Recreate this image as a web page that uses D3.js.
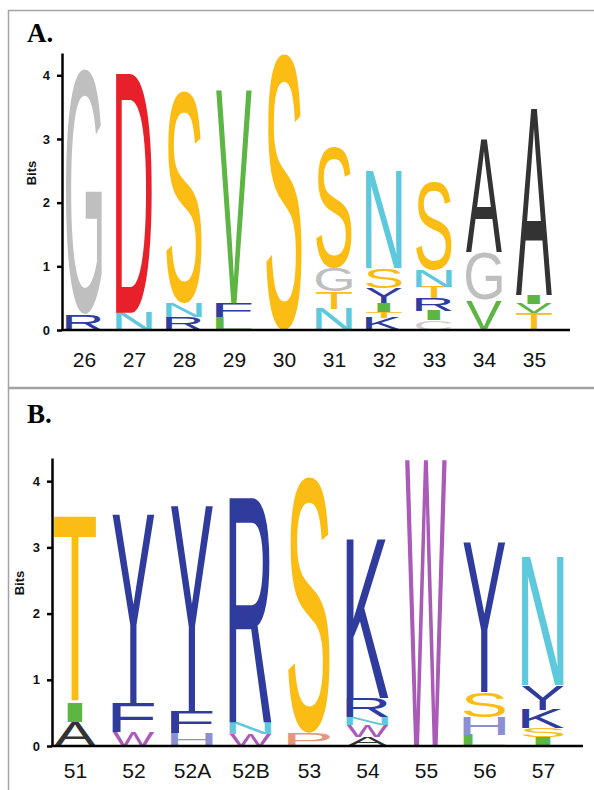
<!DOCTYPE html>
<html lang="en">
<head>
    <meta charset="UTF-8">
    <title>Sequence logo</title>
    <script src="https://cdnjs.cloudflare.com/ajax/libs/d3/7.8.5/d3.min.js"></script>
    <style type="text/css">
        body {
            margin: 0;
            background: #fff;
        }
    </style>
</head>
<body>
<div class="container"></div>
<script>
    // positions (column labels) and letter stacks, bottom to top: [letter, bits]
    const colsA = ['26', '27', '28', '29', '30', '31', '32', '33', '34', '35'];
    const stacksA = [
        [['R', 0.25], ['G', 3.85]],
        [['N', 0.27], ['D', 3.76]],
        [['R', 0.2], ['N', 0.22], ['S', 3.38]],
        [['L', 0.2], ['F', 0.22], ['V', 3.35]],
        [['S', 4.4]],
        [['N', 0.33], ['T', 0.27], ['G', 0.38], ['S', 1.92]],
        [['K', 0.19], ['T', 0.1], ['I', 0.13], ['Y', 0.24], ['S', 0.31], ['N', 1.53]],
        [['C', 0.15], ['I', 0.15], ['R', 0.2], ['T', 0.18], ['N', 0.26], ['S', 1.41]],
        [['V', 0.47], ['G', 0.75], ['A', 1.78]],
        [['T', 0.26], ['V', 0.15], ['I', 0.14], ['A', 2.93]]
    ];

    const colsB = ['51', '52', '52A', '52B', '53', '54', '55', '56', '57'];
    const stacksB = [
        [['A', 0.36], ['I', 0.29], ['T', 2.82]],
        [['W', 0.21], ['F', 0.44], ['Y', 2.85]],
        [['H', 0.2], ['F', 0.32], ['Y', 3.11]],
        [['W', 0.18], ['N', 0.18], ['R', 3.44]],
        [['P', 0.2], ['S', 3.92]],
        [['A', 0.14], ['W', 0.18], ['N', 0.12], ['R', 0.29], ['K', 2.39]],
        [['W', 4.33]],
        [['L', 0.17], ['H', 0.27], ['S', 0.38], ['Y', 2.27]],
        [['I', 0.14], ['S', 0.13], ['K', 0.28], ['Y', 0.37], ['N', 1.93]]
    ];

    const bitTicks = [0, 1, 2, 3, 4];
    const bitMax = 4.35;

    const letterColor = {
        G: '#bfbfbf', D: '#e8202a', S: '#fbbc14', T: '#fbbc14',
        V: '#5db544', L: '#5db544', I: '#5db544',
        N: '#5ec8dc', R: '#2f3c9e', K: '#2f3c9e', Y: '#2f3c9e', F: '#2f3c9e',
        W: '#a95bb7', A: '#333333', H: '#8c8fd4', P: '#e6957f', C: '#d4cccc'
    };

    const FONT = '"Liberation Sans", Arial, sans-serif';

    // tight glyph bounds at 100px, used to stretch each letter into its box
    const ctx = document.createElement('canvas').getContext('2d');
    ctx.font = '100px ' + FONT;
    const glyphCache = {};
    function glyph(ch) {
        if (!glyphCache[ch]) {
            const m = ctx.measureText(ch);
            glyphCache[ch] = {
                l: -m.actualBoundingBoxLeft,
                r: m.actualBoundingBoxRight,
                t: -m.actualBoundingBoxAscent,
                b: m.actualBoundingBoxDescent
            };
        }
        return glyphCache[ch];
    }

    const svg = d3.select('.container')
        .append('svg')
        .attr('width', 594)
        .attr('height', 790);

    // frames
    svg.append('rect')
        .attr('x', 8.5).attr('y', 10.5)
        .attr('width', 600).attr('height', 377)
        .attr('fill', 'none')
        .attr('stroke', '#a3a3a3')
        .attr('stroke-width', 1.5);

    svg.append('rect')
        .attr('x', 8.5).attr('y', 388.5)
        .attr('width', 600).attr('height', 420)
        .attr('fill', 'none')
        .attr('stroke', '#a3a3a3')
        .attr('stroke-width', 1.5);

    function drawPanel(p) {
        const g = svg.append('g');

        g.append('text')
            .text(p.title)
            .attr('x', 27)
            .attr('y', p.titleY)
            .attr('font-family', '"Liberation Serif", "Times New Roman", serif')
            .attr('font-weight', 'bold')
            .attr('font-size', 27);

        const xScale = d3.scalePoint()
            .domain(p.cols)
            .range(p.xRange);

        const yScale = d3.scaleLinear()
            .domain([0, bitMax])
            .range([p.y0, p.yTop]);

        const step = xScale.step();
        const letterW = step * 0.72;

        // letters
        p.stacks.forEach((stack, i) => {
            const cx = xScale(p.cols[i]);
            let base = 0;
            stack.forEach(([ch, bits]) => {
                const yb = yScale(base);
                const yt = yScale(base + bits);
                base += bits;
                const w = ch === 'I' ? letterW * 0.37 : letterW;
                const h = yb - yt;
                const gb = glyph(ch);
                const sx = w / (gb.r - gb.l);
                const sy = h / (gb.b - gb.t);
                g.append('text')
                    .text(ch)
                    .attr('font-family', FONT)
                    .attr('font-size', 100)
                    .attr('fill', letterColor[ch])
                    .attr('transform', 'translate(' + (cx - w / 2) + ',' + yb + ') scale(' + sx + ',' + sy + ') translate(' + (-gb.l) + ',' + (-gb.b) + ')');
            });
        });

        // y axis
        const yAxis = d3.axisLeft(yScale)
            .tickValues(bitTicks)
            .tickFormat(d3.format('d'))
            .tickSize(5)
            .tickSizeOuter(0)
            .tickPadding(7);

        const ya = g.append('g')
            .attr('transform', 'translate(' + p.axisX + ',0)')
            .call(yAxis);
        ya.selectAll('path, line')
            .attr('stroke', '#000')
            .attr('stroke-width', 2.5);
        ya.selectAll('text')
            .attr('font-family', FONT)
            .attr('font-weight', 'bold')
            .attr('font-size', 13)
            .attr('fill', '#111');

        // baseline
        g.append('line')
            .attr('x1', p.axisX - 1)
            .attr('x2', p.xEnd)
            .attr('y1', p.y0)
            .attr('y2', p.y0)
            .attr('stroke', '#000')
            .attr('stroke-width', 2.5);

        // x labels
        const xAxis = d3.axisBottom(xScale)
            .tickSize(0)
            .tickPadding(p.labelPad);

        const xa = g.append('g')
            .attr('transform', 'translate(0,' + p.y0 + ')')
            .call(xAxis);
        xa.select('.domain').remove();
        xa.selectAll('text')
            .attr('font-family', FONT)
            .attr('font-size', 21)
            .attr('fill', '#111');

        g.append('text')
            .text('Bits')
            .attr('transform', 'translate(' + p.bitsX + ',' + p.bitsY + ') rotate(-90)')
            .attr('text-anchor', 'middle')
            .attr('dominant-baseline', 'central')
            .attr('font-family', FONT)
            .attr('font-weight', 'bold')
            .attr('font-size', 13)
            .attr('fill', '#111');
    }

    drawPanel({
        title: 'A.', titleY: 42,
        cols: colsA, stacks: stacksA,
        xRange: [84, 534], y0: 330, yTop: 53,
        axisX: 62, xEnd: 570, labelPad: 22,
        bitsX: 31, bitsY: 173
    });

    drawPanel({
        title: 'B.', titleY: 423,
        cols: colsB, stacks: stacksB,
        xRange: [75, 543], y0: 746, yTop: 458,
        axisX: 52, xEnd: 583, labelPad: 17,
        bitsX: 19, bitsY: 583
    });
</script>
</body>
</html>
